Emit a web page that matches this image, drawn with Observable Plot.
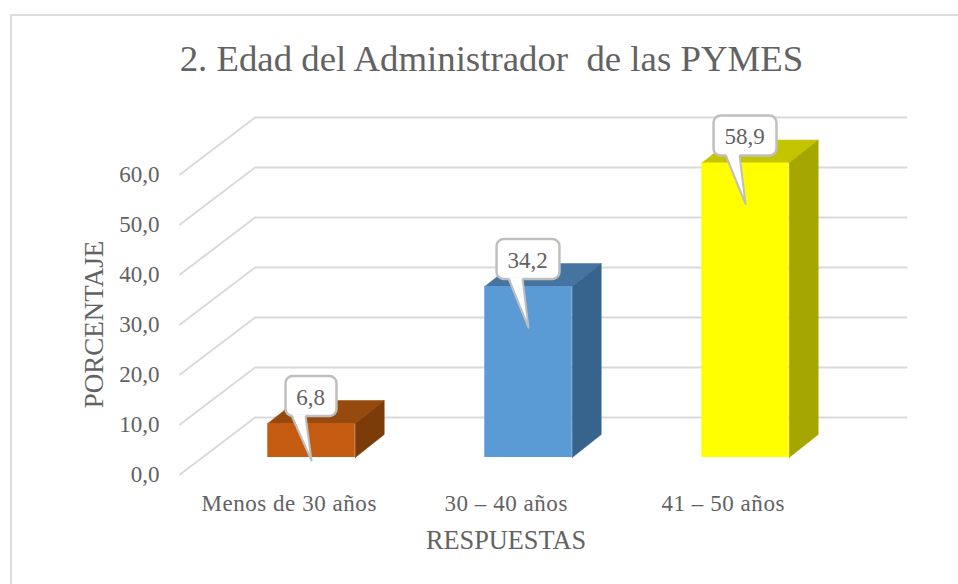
<!DOCTYPE html>
<html>
<head>
<meta charset="utf-8">
<script src="https://cdn.jsdelivr.net/npm/d3@7"></script>
<script src="https://cdn.jsdelivr.net/npm/@observablehq/plot@0.6"></script>
<style>
html,body{margin:0;padding:0;background:#fff;overflow:hidden}
#frame{position:absolute;left:10px;top:14px;width:948px;height:570px;border-left:2px solid #dcdcdc;border-top:2px solid #dcdcdc;box-sizing:border-box}
#chart{position:absolute;left:0;top:0}
svg{display:block}
.spaced{letter-spacing:0.55px}
</style>
</head>
<body>
<div id="frame"></div>
<div id="chart"></div>
<script>
// Data
const categories = ["Menos de 30 años", "30 – 40 años", "41 – 50 años"];
const values = [6.8, 34.2, 58.9];
const valueLabels = ["6,8", "34,2", "58,9"];
const yTicks = [0, 10, 20, 30, 40, 50, 60];
const titleText = "2. Edad del Administrador  de las PYMES";
const xTitle = "RESPUESTAS";
const yTitle = "PORCENTAJE";

// Colours
const frontColors = ["#C55A11", "#5B9BD5", "#FFFF00"];
const topColors = ["#964A0D", "#44749F", "#C4C400"];
const sideColors = ["#7C3C09", "#37648D", "#A6A600"];
const gridColor = "#D9D9D9";
const textColor = "#626262";
const calloutStroke = "#BFBFBF";

// Oblique projection, in scale units
const wallFront = -0.606, wallEnd = 2.742, wallDepthX = 0.346, wallDepthY = 11.4;
const barHalf = 0.2015, barDepthX = 0.1336, barDepthY = 4.6, barLift = 3.4;
const calloutHalf = [0.1175, 0.145, 0.145];
const calloutLow = 1.4, calloutHigh = 9.4;
const tipDrop = [7.4, 8.2, 8.2];
const tailA = -0.09, tailB = -0.027;

const bars = categories.map((c, i) => ({
  i, c, v: values[i], base: barLift, top: values[i] + barLift,
  x1: i - barHalf, x2: i + barHalf
}));

const poly = (rows, id, fill, pts) =>
  pts.forEach(([x, y]) => rows.push({id, fill, x, y}));

const faces = [];
bars.forEach(b => {
  poly(faces, "t" + b.i, topColors[b.i], [
    [b.x1, b.top], [b.x2, b.top],
    [b.x2 + barDepthX, b.top + barDepthY], [b.x1 + barDepthX, b.top + barDepthY], [b.x1, b.top]
  ]);
  poly(faces, "s" + b.i, sideColors[b.i], [
    [b.x2, b.base], [b.x2 + barDepthX, b.base + barDepthY],
    [b.x2 + barDepthX, b.top + barDepthY], [b.x2, b.top], [b.x2, b.base]
  ]);
});

const walls = [];
yTicks.forEach(t => {
  poly(walls, "w" + t, "none", [
    [wallFront, t], [wallFront + wallDepthX, t + wallDepthY], [wallEnd, t + wallDepthY]
  ]);
});

const tailFill = [], tailEdge = [];
bars.forEach(b => {
  const bottom = b.top + calloutLow, tipY = b.top - tipDrop[b.i];
  poly(tailFill, "f" + b.i, "#FFFFFF", [
    [b.i + tailA, bottom + 0.4], [b.i, tipY], [b.i + tailB, bottom + 0.4]
  ]);
  poly(tailEdge, "e" + b.i, "none", [
    [b.i + tailA, bottom], [b.i, tipY], [b.i + tailB, bottom]
  ]);
});

const fontFamily = "'Liberation Serif', serif";

const chart = Plot.plot({
  width: 958,
  height: 584,
  marginLeft: 165,
  marginRight: 50,
  marginTop: 174,
  marginBottom: 110,
  style: {background: "transparent", fontFamily},
  x: {domain: [-0.6728, 2.751], axis: null},
  y: {domain: [0, 60], axis: null},
  color: {type: "identity"},
  marks: [
    Plot.line(walls, {x: "x", y: "y", z: "id", stroke: gridColor, strokeWidth: 2, fill: "none"}),
    Plot.line(faces, {x: "x", y: "y", z: "id", fill: "fill", stroke: "fill", strokeWidth: 0.5}),
    Plot.rect(bars, {x1: "x1", x2: "x2", y1: "base", y2: "top", fill: (d) => frontColors[d.i]}),
    Plot.rect(bars, {
      x1: d => d.i - calloutHalf[d.i], x2: d => d.i + calloutHalf[d.i],
      y1: d => d.top + calloutLow, y2: d => d.top + calloutHigh,
      fill: "#FFFFFF", stroke: calloutStroke, strokeWidth: 2.5, rx: 7
    }),
    Plot.line(tailFill, {x: "x", y: "y", z: "id", fill: "fill", stroke: "none"}),
    Plot.line(tailEdge, {x: "x", y: "y", z: "id", stroke: calloutStroke, strokeWidth: 2, fill: "none"}),
    Plot.text(bars, {
      x: "i", y: d => d.top + (calloutLow + calloutHigh) / 2, dy: 1, dx: -1,
      text: d => valueLabels[d.i], fill: textColor, fontSize: 23, fontFamily
    }),
    Plot.axisY({
      ticks: yTicks, tickSize: 0, tickPadding: 6, label: null,
      tickFormat: d => d.toFixed(1).replace(".", ","),
      fontSize: 23, fontFamily, color: textColor
    }),
    Plot.text(categories, {
      x: (d, i) => i - 0.103, y: () => -5.8, text: d => d,
      fill: textColor, fontSize: 23, fontFamily, className: "spaced"
    }),
    Plot.text([xTitle], {
      x: () => 0.896, y: () => -13.2, text: d => d,
      fill: textColor, fontSize: 26.3, fontFamily
    }),
    Plot.text([yTitle], {
      x: () => -1.0, y: () => 30, text: d => d, rotate: -90,
      fill: textColor, fontSize: 27, fontFamily
    }),
    Plot.text([titleText], {
      x: () => 0.829, y: () => 83, text: d => d,
      fill: textColor, fontSize: 36.8, fontFamily
    })
  ]
});
document.getElementById("chart").append(chart);
</script>
</body>
</html>
